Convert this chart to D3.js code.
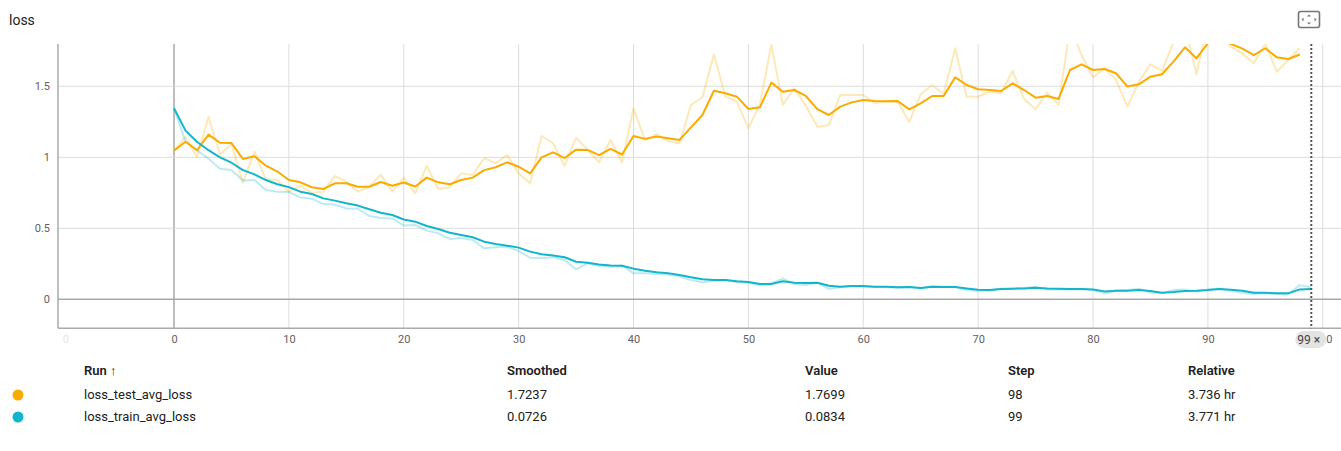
<!DOCTYPE html>
<html><head><meta charset="utf-8">
<script src="https://cdn.jsdelivr.net/npm/d3@7"></script>
<style>
body{margin:0;background:#fff;font-family:Roboto,"Noto Sans",sans-serif;}
svg text{font-family:Roboto,"Noto Sans",sans-serif;}
</style></head>
<body><svg id="c" width="1341" height="451"></svg>
<script>
const testRaw=[1.047,1.146,1.0,1.286,1.02,1.094,0.82,1.04,0.845,0.84,0.758,0.8,0.75,0.758,0.868,0.829,0.758,0.793,0.878,0.758,0.857,0.746,0.941,0.777,0.789,0.887,0.876,0.995,0.958,1.016,0.887,0.817,1.15,1.099,0.939,1.138,1.052,0.965,1.122,0.965,1.345,1.12,1.164,1.115,1.099,1.369,1.423,1.725,1.427,1.392,1.204,1.376,1.791,1.369,1.486,1.362,1.216,1.228,1.439,1.439,1.439,1.38,1.394,1.392,1.249,1.444,1.509,1.446,1.768,1.427,1.427,1.462,1.451,1.608,1.411,1.338,1.455,1.369,1.92,1.72,1.563,1.627,1.545,1.357,1.533,1.655,1.608,1.81,1.93,1.585,1.96,1.88,1.78,1.732,1.662,1.80,1.603,1.685,1.7699];
const testSmooth=[1.047,1.11,1.05,1.16,1.103,1.10,0.988,1.007,0.941,0.9,0.84,0.824,0.789,0.777,0.817,0.817,0.793,0.793,0.826,0.8,0.823,0.795,0.857,0.824,0.81,0.84,0.857,0.91,0.93,0.965,0.934,0.887,1.0,1.035,0.995,1.054,1.052,1.016,1.059,1.02,1.15,1.13,1.146,1.134,1.122,1.211,1.298,1.469,1.451,1.427,1.34,1.352,1.526,1.462,1.474,1.432,1.34,1.298,1.357,1.387,1.404,1.397,1.394,1.397,1.338,1.38,1.432,1.432,1.563,1.509,1.479,1.474,1.467,1.521,1.474,1.42,1.432,1.411,1.615,1.655,1.615,1.622,1.592,1.498,1.514,1.568,1.585,1.674,1.775,1.697,1.803,1.834,1.80,1.765,1.72,1.768,1.704,1.692,1.7237];
const trainRaw=[1.345,1.11,1.05,0.99,0.92,0.91,0.836,0.84,0.77,0.758,0.756,0.718,0.709,0.671,0.667,0.64,0.638,0.587,0.573,0.57,0.52,0.523,0.484,0.465,0.425,0.432,0.418,0.359,0.366,0.371,0.34,0.293,0.289,0.296,0.277,0.211,0.254,0.235,0.23,0.239,0.183,0.183,0.178,0.174,0.16,0.136,0.12,0.131,0.136,0.12,0.117,0.099,0.113,0.146,0.108,0.101,0.117,0.073,0.085,0.094,0.089,0.087,0.085,0.082,0.088,0.076,0.092,0.086,0.088,0.066,0.061,0.062,0.075,0.075,0.08,0.089,0.07,0.07,0.07,0.073,0.066,0.042,0.061,0.066,0.075,0.047,0.042,0.066,0.07,0.054,0.07,0.077,0.061,0.047,0.037,0.042,0.037,0.037,0.1,0.0834];
const trainSmooth=[1.345,1.188,1.11,1.05,1.0,0.962,0.91,0.88,0.84,0.81,0.79,0.758,0.742,0.711,0.695,0.676,0.66,0.634,0.61,0.594,0.562,0.547,0.516,0.495,0.469,0.453,0.437,0.406,0.39,0.378,0.364,0.336,0.317,0.308,0.296,0.265,0.258,0.246,0.239,0.237,0.216,0.202,0.19,0.183,0.171,0.155,0.141,0.136,0.136,0.127,0.122,0.108,0.108,0.127,0.117,0.115,0.117,0.096,0.089,0.094,0.094,0.089,0.089,0.085,0.087,0.08,0.089,0.087,0.087,0.077,0.068,0.066,0.073,0.075,0.077,0.082,0.077,0.075,0.073,0.073,0.07,0.056,0.061,0.061,0.066,0.059,0.047,0.052,0.059,0.061,0.066,0.073,0.068,0.061,0.047,0.047,0.042,0.042,0.07,0.0726];
const xTicks=[-10,0,10,20,30,40,50,60,70,80,90,100];
const yTicks=[0,0.5,1,1.5];
const runs=["loss_test_avg_loss","loss_train_avg_loss"];
const smoothedVals=["1.7237","0.0726"];
const valueVals=["1.7699","0.0834"];
const stepVals=["98","99"];
const relVals=["3.736 hr","3.771 hr"];
const headers=["Run \u2191","Smoothed","Value","Step","Relative"];
const colors=["#f9ab00","#12b5cb"];
const hoverStep=99;

const svg=d3.select("#c");
const L=58,R=1340,T=44,B=328.3;
const x=d3.scaleLinear().domain([-10.1,101.5]).range([L,R]);
const y=d3.scaleLinear().domain([-0.204,1.798]).range([B,T]);

svg.append("text").attr("x",9).attr("y",25).attr("font-size",14).attr("fill","#212121").text("loss");
// icon
const ic=svg.append("g").attr("transform","translate(1298,11)");
ic.append("rect").attr("x",0.5).attr("y",0.5).attr("width",21).attr("height",16).attr("rx",2).attr("fill","none").attr("stroke","#757575").attr("stroke-width",1.6);
ic.append("path").attr("d","M11,3.5 l-2,2 h4z M11,13.5 l-2,-2 h4z M3.5,8.5 l2,-2 v4z M18.5,8.5 l-2,-2 v4z").attr("fill","#757575");

const defs=svg.append("defs");
defs.append("clipPath").attr("id","clip").append("rect").attr("x",L).attr("y",T).attr("width",R-L+1).attr("height",B-T);

// grid
const g=svg.append("g");
g.selectAll(".vg").data(xTicks.filter(d=>d>=0)).join("line")
 .attr("x1",d=>x(d)).attr("x2",d=>x(d)).attr("y1",T).attr("y2",B)
 .attr("stroke",d=>d===0?"#a8a8a8":"#dcdcdc").attr("stroke-width",d=>d===0?1.5:1);
g.selectAll(".hg").data(yTicks).join("line")
 .attr("x1",L).attr("x2",1341).attr("y1",d=>y(d)).attr("y2",d=>y(d))
 .attr("stroke",d=>d===0?"#a8a8a8":"#dcdcdc").attr("stroke-width",d=>d===0?1.5:1);
// axes lines
svg.append("line").attr("x1",L).attr("x2",L).attr("y1",T).attr("y2",B).attr("stroke","#aaa").attr("stroke-width",1.5);
svg.append("line").attr("x1",L).attr("x2",1341).attr("y1",B).attr("y2",B).attr("stroke","#aaa").attr("stroke-width",1.5);

// y labels
const yAx=d3.axisLeft(y).tickValues(yTicks).tickSize(0).tickFormat(d3.format("~g"));
const ya=svg.append("g").attr("transform",`translate(${L-5},0)`).call(yAx);
ya.select(".domain").remove();
ya.selectAll("text").attr("font-size",11).attr("fill","#616161");
// x labels (clipped at left edge and under the hover badge, as in the reference)
const xAx=d3.axisBottom(x).tickValues(xTicks).tickSize(0).tickFormat(d3.format("~g"));
const xa=svg.append("g").attr("transform",`translate(0,${B+4})`).call(xAx);
xa.select(".domain").remove();
xa.selectAll("text").attr("font-size",11).attr("fill",d=>d<0?"#e6e6e6":"#616161");
const lc=defs.append("clipPath").attr("id","lclip");
lc.append("rect").attr("x",61).attr("y",0).attr("width",x(hoverStep)-16-61).attr("height",30);
lc.append("rect").attr("x",x(hoverStep)+15).attr("y",0).attr("width",40).attr("height",30);
xa.attr("clip-path","url(#lclip)");

// lines
const line=d3.line().x((d,i)=>x(i)).y(d=>y(d));
const lg=svg.append("g").attr("clip-path","url(#clip)");
[[testRaw,0],[trainRaw,1]].forEach(([d,k])=>{
 lg.append("path").attr("d",line(d)).attr("fill","none").attr("stroke",colors[k]).attr("stroke-opacity",0.28).attr("stroke-width",2).attr("stroke-linejoin","round");
});
[[testSmooth,0],[trainSmooth,1]].forEach(([d,k])=>{
 lg.append("path").attr("d",line(d)).attr("fill","none").attr("stroke",colors[k]).attr("stroke-width",2).attr("stroke-linejoin","round");
});
// hover line
svg.append("line").attr("x1",x(hoverStep)).attr("x2",x(hoverStep)).attr("y1",T).attr("y2",B).attr("stroke","#555").attr("stroke-width",2).attr("stroke-dasharray","2,2");
// badge
const bx=x(hoverStep);
svg.append("rect").attr("x",bx-16).attr("y",331).attr("width",31).attr("height",17).attr("rx",8.5).attr("fill","#e3e3e3");
svg.append("text").attr("x",bx-14).attr("y",344).attr("font-size",12).attr("fill","#444").text("99 \u00d7");

// table
const colX=[84,507,805,1008,1188];
const tg=svg.append("g").attr("font-size",13).attr("fill","#212121");
headers.forEach((h,i)=>tg.append("text").attr("x",colX[i]).attr("y",375).attr("font-weight",600).attr("fill","#212121").text(h));
runs.forEach((r,j)=>{
 const yy=399+j*22;
 svg.append("circle").attr("cx",18).attr("cy",yy-4).attr("r",5.5).attr("fill",colors[j]);
 const vals=[r,smoothedVals[j],valueVals[j],stepVals[j],relVals[j]];
 vals.forEach((v,i)=>tg.append("text").attr("x",colX[i]).attr("y",yy).attr("fill","#212121").text(v));
});
</script></body></html>
